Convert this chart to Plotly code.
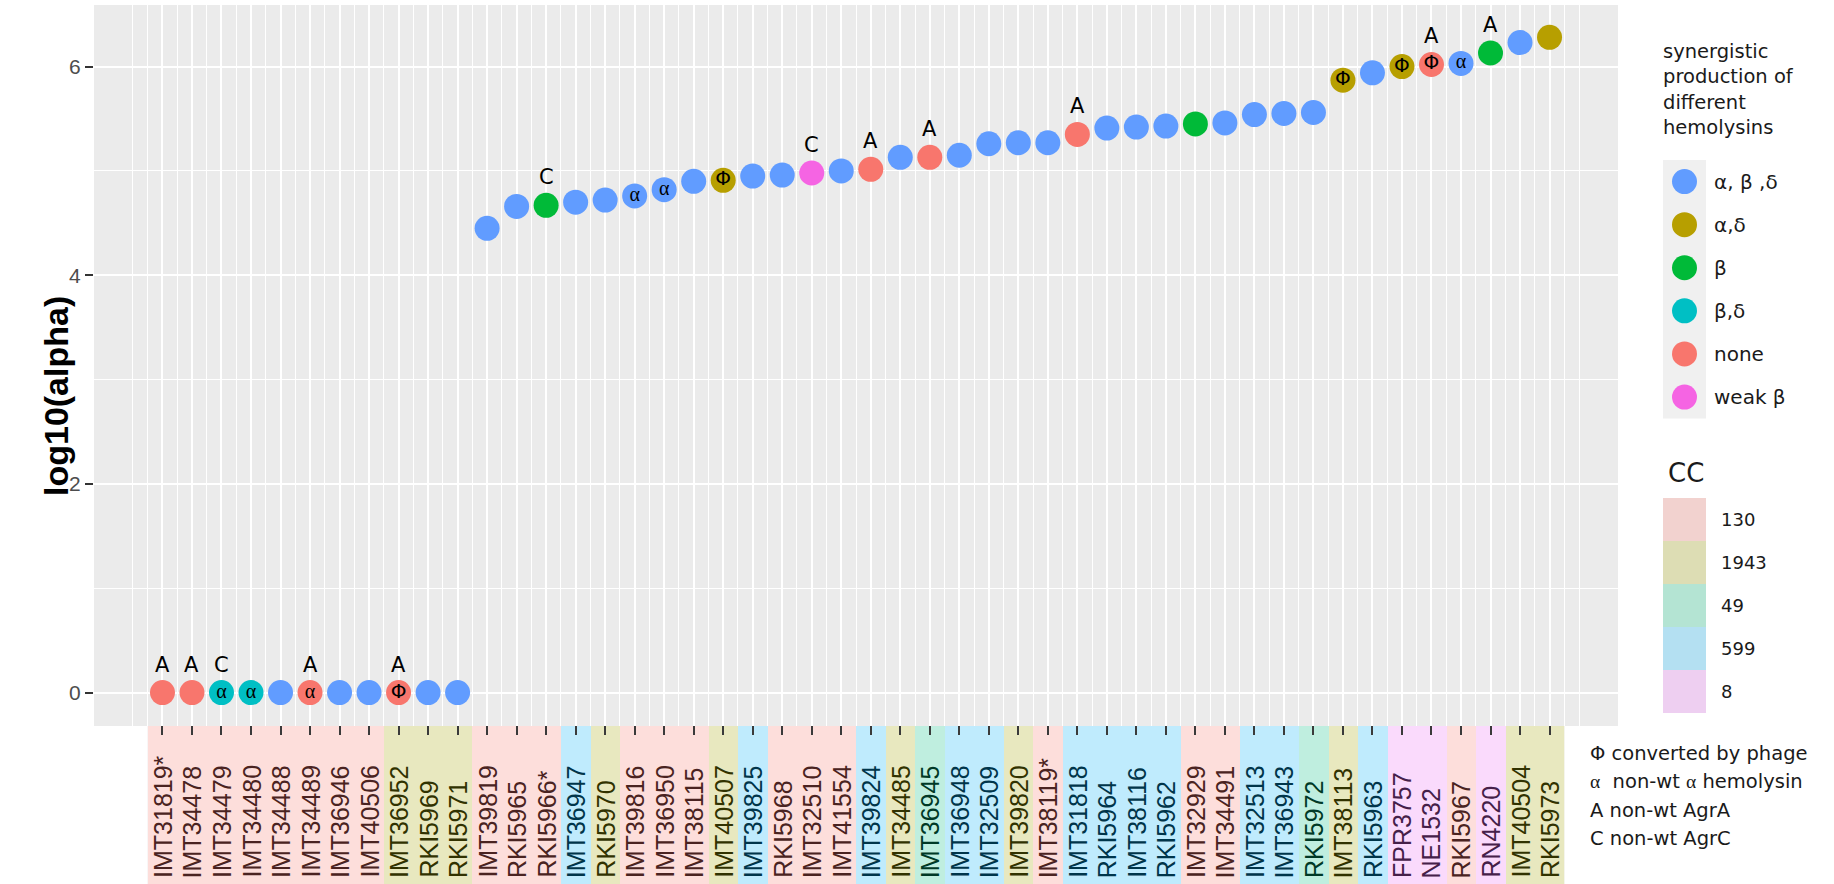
import plotly.graph_objects as go

# ---------------- data ----------------
strains = ["IMT31819*", "IMT34478", "IMT34479", "IMT34480", "IMT34488", "IMT34489", "IMT36946", "IMT40506",
           "IMT36952", "RKI5969", "RKI5971", "IMT39819", "RKI5965", "RKI5966*", "IMT36947", "RKI5970",
           "IMT39816", "IMT36950", "IMT38115", "IMT40507", "IMT39825", "RKI5968", "IMT32510", "IMT41554",
           "IMT39824", "IMT34485", "IMT36945", "IMT36948", "IMT32509", "IMT39820", "IMT38119*", "IMT31818",
           "RKI5964", "IMT38116", "RKI5962", "IMT32929", "IMT34491", "IMT32513", "IMT36943", "RKI5972",
           "IMT38113", "RKI5963", "FPR3757", "NE1532", "RKI5967", "RN4220", "IMT40504", "RKI5973"]

cc = ["130", "130", "130", "130", "130", "130", "130", "130",
      "1943", "1943", "1943", "130", "130", "130", "599", "1943",
      "130", "130", "130", "1943", "599", "130", "130", "130",
      "599", "1943", "49", "599", "599", "1943", "130", "599",
      "599", "599", "599", "130", "130", "599", "599", "49",
      "1943", "599", "8", "8", "130", "8", "1943", "1943"]

log10_alpha = [0, 0, 0, 0, 0, 0, 0, 0, 0, 0, 0,
               4.45, 4.66, 4.67, 4.70, 4.72, 4.76, 4.82, 4.90, 4.91, 4.95, 4.96, 4.98, 5.00,
               5.015, 5.13, 5.13, 5.15, 5.26, 5.27, 5.27, 5.35, 5.41, 5.42, 5.43, 5.45, 5.46,
               5.54, 5.55, 5.56, 5.87, 5.94, 6.00, 6.02, 6.03, 6.13, 6.23, 6.28]

hemolysin = ["none", "none", "β,δ", "β,δ", "α,β,δ", "none", "α,β,δ", "α,β,δ", "none", "α,β,δ", "α,β,δ",
             "α,β,δ", "α,β,δ", "β", "α,β,δ", "α,β,δ", "α,β,δ", "α,β,δ", "α,β,δ", "α,δ", "α,β,δ", "α,β,δ",
             "weak β", "α,β,δ", "none", "α,β,δ", "none", "α,β,δ", "α,β,δ", "α,β,δ", "α,β,δ", "none",
             "α,β,δ", "α,β,δ", "α,β,δ", "β", "α,β,δ", "α,β,δ", "α,β,δ", "α,β,δ", "α,δ", "α,β,δ",
             "α,δ", "none", "α,β,δ", "β", "α,β,δ", "α,δ"]

# symbol drawn inside the dot ("" = none)
inner_mark = ["", "", "α", "α", "", "α", "", "", "Φ", "", "",
              "", "", "", "", "", "α", "α", "", "Φ", "", "",
              "", "", "", "", "", "", "", "", "", "",
              "", "", "", "", "", "", "", "", "Φ", "",
              "Φ", "Φ", "α", "", "", ""]

# label drawn above the dot ("" = none)
agr_mark = ["A", "A", "C", "", "", "A", "", "", "A", "", "",
            "", "", "C", "", "", "", "", "", "", "", "",
            "C", "", "A", "", "A", "", "", "", "", "A",
            "", "", "", "", "", "", "", "", "", "",
            "", "A", "", "A", "", ""]

hemo_levels = ["α,β,δ", "α,δ", "β", "β,δ", "none", "weak β"]
hemo_legend_text = ["α, β ,δ", "α,δ", "β", "β,δ", "none", "weak β"]
hemo_colors = {"α,β,δ": "#619CFF", "α,δ": "#B79F00", "β": "#00BA38",
               "β,δ": "#00BFC4", "none": "#F8766D", "weak β": "#F564E3"}

cc_levels = ["130", "1943", "49", "599", "8"]
cc_tile = {"130": "#FDDEDB", "1943": "#E8E8BF", "49": "#BFEEDF", "599": "#BFEBFD", "8": "#FADAFC"}
cc_key = {"130": "#F2D2CF", "1943": "#DDDDB4", "49": "#B4E4D3", "599": "#B4E0F2", "8": "#EECFF1"}
cc_text = {"130": "#4A2321", "1943": "#313200", "49": "#003926", "599": "#00354A", "8": "#452049"}

footnotes = ["Φ converted by phage",
             "<span style='font-family:Liberation Serif'>α</span>  non-wt <span style='font-family:Liberation Serif'>α</span> hemolysin",
             "A non-wt AgrA",
             "C non-wt AgrC"]

# ---------------- layout geometry (pixels) ----------------
W, H = 1834, 884
X_RANGE = [-1.32, 50.32]
PX_L, PX_R = 94, 1618
PX_T, PX_B = 5, 726


def px_x(v):
    return PX_L + (v - X_RANGE[0]) / (X_RANGE[1] - X_RANGE[0]) * (PX_R - PX_L)


xpos = list(range(1, len(strains) + 1))

fig = go.Figure()

# points, one trace per hemolysin class
for lev in hemo_levels:
    xs = [x for x, h in zip(xpos, hemolysin) if h == lev]
    ys = [v for v, h in zip(log10_alpha, hemolysin) if h == lev]
    fig.add_trace(go.Scatter(x=xs, y=ys, mode="markers", name=lev, showlegend=False,
                             marker=dict(size=25, color=hemo_colors[lev], line=dict(width=0)),
                             xaxis="x", yaxis="y"))

# inner symbols
for sym, fam in [("α", "Liberation Serif"), ("Φ", "DejaVu Sans")]:
    xs = [x for x, m in zip(xpos, inner_mark) if m == sym]
    ys = [v for v, m in zip(log10_alpha, inner_mark) if m == sym]
    fig.add_trace(go.Scatter(x=xs, y=ys, mode="text", text=[sym] * len(xs), showlegend=False,
                             textposition="middle center",
                             textfont=dict(family=fam, size=20, color="black"),
                             xaxis="x", yaxis="y"))

# CC tiles as a one-row heatmap
zvals = [[cc_levels.index(c) for c in cc]]
n = len(cc_levels)
cscale = []
for i, lev in enumerate(cc_levels):
    cscale.append([i / n, cc_tile[lev]])
    cscale.append([(i + 1) / n, cc_tile[lev]])
fig.add_trace(go.Heatmap(x=xpos, y=[0], z=zvals, colorscale=cscale, zmin=-0.5, zmax=n - 0.5,
                         showscale=False, hoverinfo="skip", xaxis="x2", yaxis="y2"))

annotations = []
# A / C labels above dots
for x, v, m in zip(xpos, log10_alpha, agr_mark):
    if m:
        annotations.append(dict(x=x, y=v, xref="x", yref="y", text=m, showarrow=False,
                                yshift=28, font=dict(family="DejaVu Sans", size=21, color="black")))
# strain labels inside tiles
for x, s, c in zip(xpos, strains, cc):
    annotations.append(dict(x=x, y=-0.5, xref="x2", yref="y2", text=s, showarrow=False,
                            textangle=-90, yanchor="bottom", xanchor="center", yshift=4,
                            font=dict(family="Liberation Sans", size=25, color=cc_text[c])))

# y axis title
annotations.append(dict(x=35 / W, y=1 - 396 / H, xref="paper", yref="paper", text="<b>log10(alpha)</b>",
                        showarrow=False, textangle=-90,
                        font=dict(family="Liberation Sans", size=34, color="black")))

shapes = []
# legend 1: hemolysins
annotations.append(dict(x=1661 / W, y=1 - 38 / H, xref="paper", yref="paper", xanchor="left", yanchor="top",
                        align="left", showarrow=False,
                        text="synergistic<br>production of<br>different<br>hemolysins",
                        font=dict(family="DejaVu Sans", size=19.5, color="#1A1A1A")))
key_top, key_h = 160, 43.1
shapes.append(dict(type="rect", xref="paper", yref="paper", x0=1663 / W, x1=1706 / W,
                   y0=1 - (key_top + key_h * len(hemo_levels)) / H, y1=1 - key_top / H,
                   fillcolor="#F0F0F0", line=dict(width=0), layer="above"))
for i, lev in enumerate(hemo_levels):
    cy = 1 - (key_top + key_h * (i + 0.5)) / H
    shapes.append(dict(type="circle", xref="paper", yref="paper", xsizemode="pixel", ysizemode="pixel",
                       xanchor=1684.5 / W, yanchor=cy, x0=-12.5, x1=12.5, y0=-12.5, y1=12.5,
                       fillcolor=hemo_colors[lev], line=dict(width=0), layer="above"))
    annotations.append(dict(x=1712 / W, y=cy, xref="paper", yref="paper", xanchor="left", yanchor="middle",
                            text=hemo_legend_text[i], showarrow=False,
                            font=dict(family="DejaVu Sans", size=20, color="#1A1A1A")))

# legend 2: CC
annotations.append(dict(x=1666 / W, y=1 - 473 / H, xref="paper", yref="paper", xanchor="left",
                        yanchor="middle", text="CC", showarrow=False,
                        font=dict(family="DejaVu Sans", size=26, color="#1A1A1A")))
cc_top, cc_h = 498, 43
for i, lev in enumerate(cc_levels):
    shapes.append(dict(type="rect", xref="paper", yref="paper", x0=1663 / W, x1=1706 / W,
                       y0=1 - (cc_top + cc_h * (i + 1)) / H, y1=1 - (cc_top + cc_h * i) / H,
                       fillcolor=cc_key[lev], line=dict(width=0), layer="above"))
    annotations.append(dict(x=1719 / W, y=1 - (cc_top + cc_h * (i + 0.5)) / H, xref="paper", yref="paper",
                            xanchor="left", yanchor="middle", text=lev, showarrow=False,
                            font=dict(family="DejaVu Sans", size=18, color="#1A1A1A")))

# footnotes
for i, t in enumerate(footnotes):
    annotations.append(dict(x=1588 / W, y=1 - (753 + 28.5 * i) / H, xref="paper", yref="paper",
                            xanchor="left", yanchor="middle", text=t, showarrow=False,
                            font=dict(family="DejaVu Sans", size=19.5, color="#1A1A1A")))

major_x = xpos
minor_x = [0] + [i + 0.5 for i in range(0, 49)] + [49]

fig.update_layout(
    width=W, height=H, margin=dict(l=0, r=0, t=0, b=0),
    paper_bgcolor="white", plot_bgcolor="#EBEBEB",
    showlegend=False,
    xaxis=dict(domain=[PX_L / W, PX_R / W], range=X_RANGE, tickmode="array", tickvals=major_x,
               showticklabels=False, ticks="", showgrid=True, gridcolor="white", gridwidth=2,
               zeroline=False, showline=False, anchor="y",
               minor=dict(tickmode="array", tickvals=minor_x, showgrid=True, gridcolor="white",
                          gridwidth=1, ticks="")),
    yaxis=dict(domain=[1 - PX_B / H, 1 - PX_T / H], range=[-0.32, 6.59], tickmode="array",
               tickvals=[0, 2, 4, 6], ticktext=["0", "2", "4", "6"], ticks="outside", ticklen=8,
               tickwidth=2, tickcolor="#333333", showgrid=True, gridcolor="white", gridwidth=2,
               zeroline=False, showline=False, anchor="x",
               tickfont=dict(family="Liberation Sans", size=21, color="#4D4D4D"),
               minor=dict(tickmode="array", tickvals=[1, 3, 5], showgrid=True, gridcolor="white",
                          gridwidth=1, ticks="")),
    xaxis2=dict(domain=[px_x(0.5) / W, px_x(48.5) / W], range=[0.5, 48.5], anchor="y2", side="top",
                tickmode="array", tickvals=major_x, showticklabels=False, ticks="inside", ticklen=9,
                tickwidth=2, tickcolor="#3A3A3A", showgrid=False, zeroline=False, showline=False),
    yaxis2=dict(domain=[0, 1 - PX_B / H], range=[-0.5, 0.5], anchor="x2", showticklabels=False,
                ticks="", showgrid=False, zeroline=False, showline=False),
    annotations=annotations,
    shapes=shapes,
)

fig.write_html("out.html", config={"displayModeBar": False},
               post_script="document.body.style.margin='0';document.body.style.overflow='hidden';")
